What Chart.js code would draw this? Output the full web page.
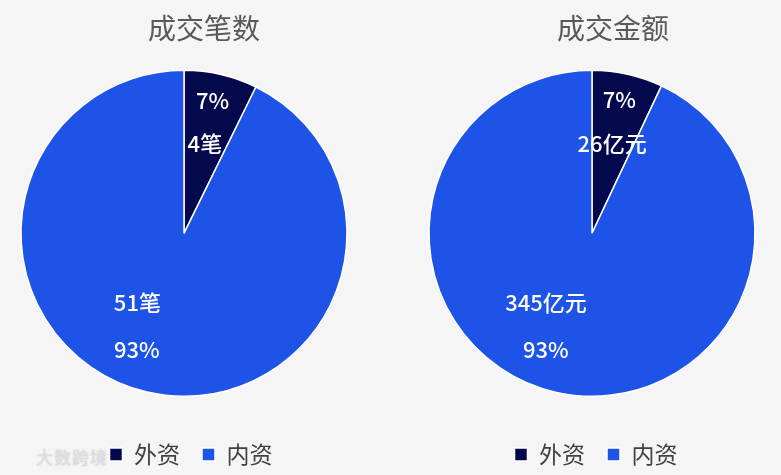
<!DOCTYPE html>
<html>
<head>
<meta charset="utf-8">
<script src="https://cdn.jsdelivr.net/npm/chart.js@4"></script>
<style>
  html, body { margin: 0; padding: 0; background: #f5f5f5; }
  body { width: 781px; height: 475px; position: relative; overflow: hidden; font-family: "Noto Sans CJK SC", sans-serif; }
  .box { position: absolute; top: 0; height: 475px; }
  #left-box { left: 0; width: 408px; }
  #right-box { left: 420px; width: 386px; }
  .mark { position: absolute; left: 36px; top: 444px; font-size: 17px; color: #dedede; text-shadow: 0 0 2px #c4c4c4; letter-spacing: 1px; }
</style>
</head>
<body>
<div class="box" id="left-box"><canvas id="count-chart"></canvas></div>
<div class="box" id="right-box"><canvas id="amount-chart"></canvas></div>
<div class="mark">大数跨境</div>
<script>
// chart data
const categories = ['外资', '内资'];
const countValues = [4, 51];
const amountValues = [26, 345];
const chartTitles = ['成交笔数', '成交金额'];
const units = ['笔', '亿元'];

const colors = ['#03094c', '#1d53e6'];
const fontFamily = '"Noto Sans CJK SC", "Noto Sans", sans-serif';

// where each slice's two labels sit: [angle offset in degrees from slice middle, fraction of radius]
const labelSpots = [
    { value: [0, 0.565], pct: [-1, 0.835] },
    { value: [21, 0.51], pct: [9, 0.77] }
];

// Move pie and legend sideways after layout (title stays centred on the box)
const shiftPlugin = {
    id: 'shift',
    afterLayout(chart, args, opts) {
        chart.chartArea.left += opts.pie;
        chart.chartArea.right += opts.pie;
        if (chart.legend) {
            chart.legend.left += opts.legend;
            chart.legend.right += opts.legend;
        }
    }
};

// Draw value and percentage labels inside the slices
const sliceLabels = {
    id: 'sliceLabels',
    afterDatasetsDraw(chart, args, opts) {
        const ctx = chart.ctx;
        const meta = chart.getDatasetMeta(0);
        const data = chart.data.datasets[0].data;
        const total = data.reduce((a, b) => a + b, 0);
        ctx.save();
        ctx.fillStyle = '#ffffff';
        ctx.font = '500 22px ' + fontFamily;
        ctx.textAlign = 'center';
        ctx.textBaseline = 'middle';
        meta.data.forEach((arc, i) => {
            const p = arc.getProps(['x', 'y', 'startAngle', 'endAngle', 'outerRadius'], true);
            const mid = (p.startAngle + p.endAngle) / 2;
            const spot = labelSpots[i];
            const pct = Math.round(data[i] / total * 100) + '%';
            const texts = [[data[i] + opts.unit, spot.value], [pct, spot.pct]];
            texts.forEach(([text, s]) => {
                const a = mid + s[0] * Math.PI / 180;
                const r = p.outerRadius * s[1];
                ctx.fillText(text, p.x + Math.cos(a) * r, p.y + Math.sin(a) * r);
            });
        });
        ctx.restore();
    }
};

function makePie(canvasId, title, values, unit, pieShift, legendShift) {
    const ctx = document.getElementById(canvasId).getContext('2d');
    return new Chart(ctx, {
        type: 'pie',
        data: {
            labels: categories,
            datasets: [{
                data: values,
                backgroundColor: colors,
                borderColor: '#ffffff',
                borderWidth: 1.5,
                radius: 163
            }]
        },
        options: {
            responsive: true,
            maintainAspectRatio: false,
            animation: false,
            layout: { padding: { bottom: -1 } },
            plugins: {
                title: {
                    display: true,
                    text: title,
                    color: '#595959',
                    font: { family: fontFamily, size: 28, weight: 'normal' },
                    padding: { top: 12, bottom: 0 }
                },
                legend: {
                    position: 'bottom',
                    labels: {
                        color: '#404040',
                        font: { family: fontFamily, size: 23 },
                        boxWidth: 13,
                        boxHeight: 13,
                        padding: 22
                    }
                },
                tooltip: { enabled: false },
                shift: { pie: pieShift, legend: legendShift },
                sliceLabels: { unit: unit }
            }
        },
        plugins: [shiftPlugin, sliceLabels]
    });
}

makePie('count-chart', chartTitles[0], countValues, units[0], -20, -13);
makePie('amount-chart', chartTitles[1], amountValues, units[1], -21, -17);
</script>
</body>
</html>
